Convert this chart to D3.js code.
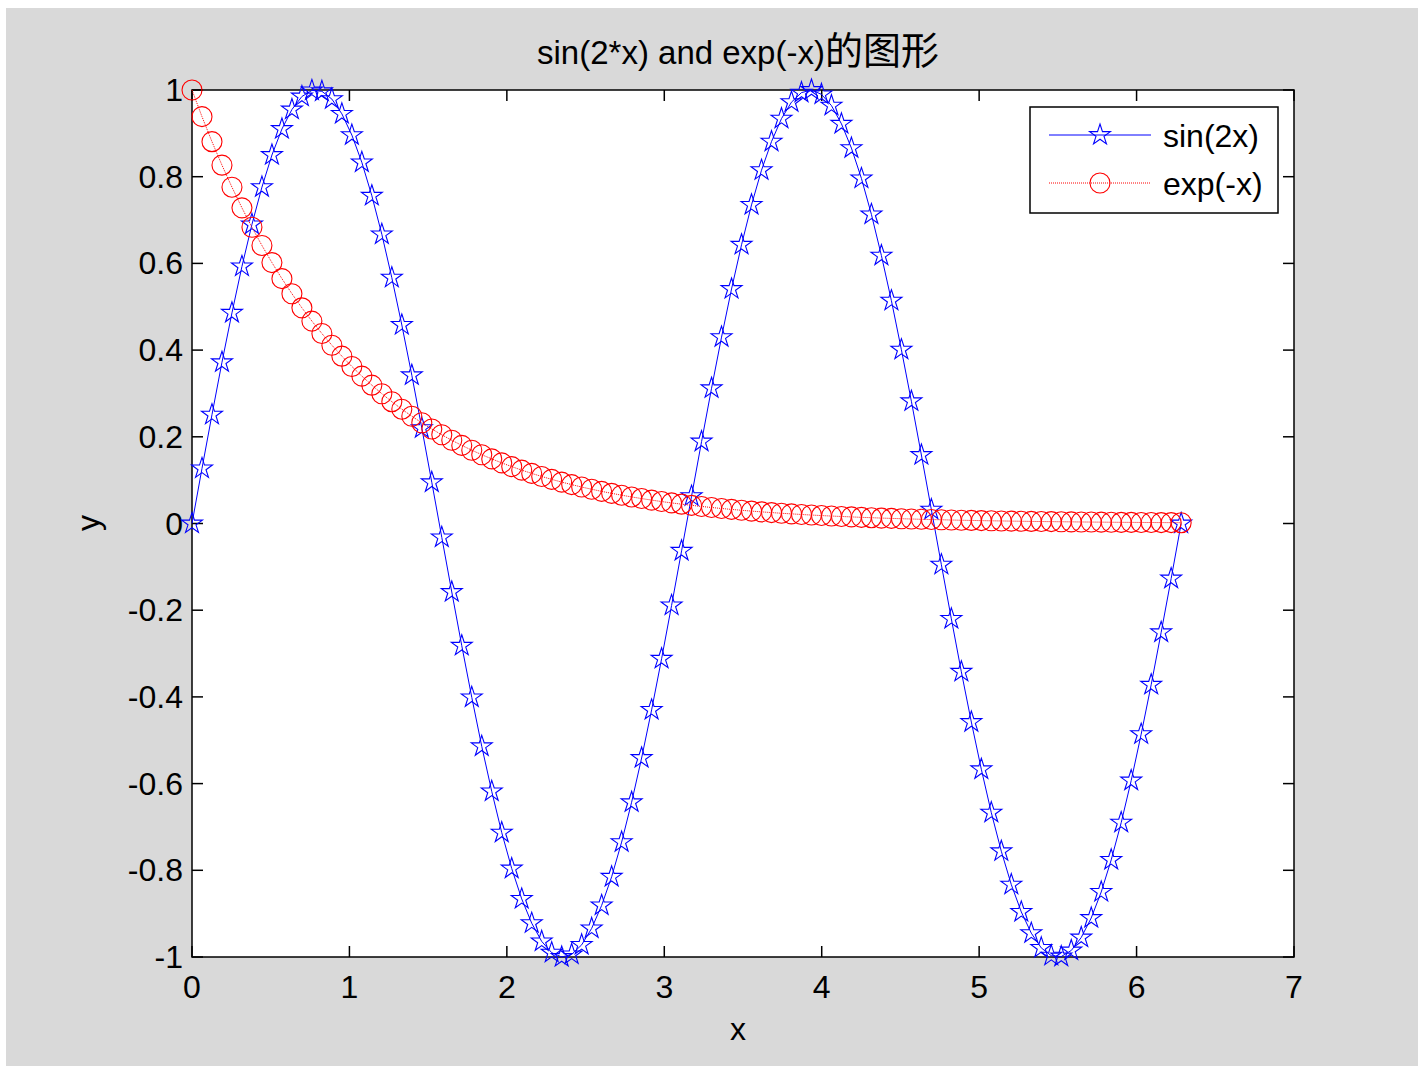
<!DOCTYPE html>
<html>
<head>
<meta charset="utf-8">
<script src="https://cdn.jsdelivr.net/npm/d3@7/dist/d3.min.js"></script>
<style>
  html, body { margin: 0; padding: 0; background: #ffffff; }
  svg { display: block; }
  text { font-family: "Liberation Sans", Arial, "Noto Sans CJK SC", sans-serif; fill: #000; }
</style>
</head>
<body>
<svg id="chart" width="1422" height="1068"></svg>
<script>
// Sample grid: 100 points from 0 to 2*pi
const xValues = [
  0.0000, 0.0635, 0.1269, 0.1904, 0.2539, 0.3173, 0.3808, 0.4443, 0.5077, 0.5712,
  0.6347, 0.6981, 0.7616, 0.8251, 0.8885, 0.9520, 1.0155, 1.0789, 1.1424, 1.2059,
  1.2693, 1.3328, 1.3963, 1.4597, 1.5232, 1.5867, 1.6501, 1.7136, 1.7771, 1.8405,
  1.9040, 1.9675, 2.0309, 2.0944, 2.1579, 2.2213, 2.2848, 2.3483, 2.4117, 2.4752,
  2.5387, 2.6021, 2.6656, 2.7291, 2.7925, 2.8560, 2.9195, 2.9829, 3.0464, 3.1099,
  3.1733, 3.2368, 3.3003, 3.3637, 3.4272, 3.4907, 3.5541, 3.6176, 3.6811, 3.7445,
  3.8080, 3.8715, 3.9349, 3.9984, 4.0619, 4.1253, 4.1888, 4.2523, 4.3157, 4.3792,
  4.4427, 4.5061, 4.5696, 4.6331, 4.6965, 4.7600, 4.8235, 4.8869, 4.9504, 5.0139,
  5.0773, 5.1408, 5.2043, 5.2677, 5.3312, 5.3947, 5.4581, 5.5216, 5.5851, 5.6485,
  5.7120, 5.7755, 5.8389, 5.9024, 5.9659, 6.0293, 6.0928, 6.1563, 6.2197, 6.2832
];

// sin(2x) series
const sinValues = [
  0.000, 0.127, 0.251, 0.372, 0.486, 0.593, 0.690, 0.776, 0.850, 0.910,
  0.955, 0.985, 0.999, 0.997, 0.979, 0.945, 0.896, 0.833, 0.756, 0.667,
  0.567, 0.458, 0.342, 0.220, 0.095, -0.032, -0.158, -0.282, -0.401, -0.514,
  -0.618, -0.713, -0.796, -0.866, -0.922, -0.964, -0.990, -1.000, -0.994, -0.972,
  -0.934, -0.881, -0.815, -0.735, -0.643, -0.541, -0.430, -0.312, -0.189, -0.063,
  0.063, 0.189, 0.312, 0.430, 0.541, 0.643, 0.735, 0.815, 0.881, 0.934,
  0.972, 0.994, 1.000, 0.990, 0.964, 0.922, 0.866, 0.796, 0.713, 0.618,
  0.514, 0.401, 0.282, 0.158, 0.032, -0.095, -0.220, -0.342, -0.458, -0.567,
  -0.667, -0.756, -0.833, -0.896, -0.945, -0.979, -0.997, -0.999, -0.985, -0.955,
  -0.910, -0.850, -0.776, -0.690, -0.593, -0.486, -0.372, -0.251, -0.127, 0.000
];

// exp(-x) series
const expValues = [
  1.0000, 0.9385, 0.8808, 0.8266, 0.7758, 0.7281, 0.6833, 0.6413, 0.6019, 0.5648,
  0.5301, 0.4975, 0.4669, 0.4382, 0.4113, 0.3860, 0.3622, 0.3400, 0.3191, 0.2994,
  0.2810, 0.2637, 0.2475, 0.2323, 0.2180, 0.2046, 0.1920, 0.1802, 0.1691, 0.1587,
  0.1490, 0.1398, 0.1312, 0.1231, 0.1156, 0.1085, 0.1018, 0.0955, 0.0897, 0.0841,
  0.0790, 0.0741, 0.0696, 0.0653, 0.0613, 0.0575, 0.0540, 0.0506, 0.0475, 0.0446,
  0.0419, 0.0393, 0.0369, 0.0346, 0.0325, 0.0305, 0.0286, 0.0268, 0.0252, 0.0236,
  0.0222, 0.0208, 0.0195, 0.0183, 0.0172, 0.0162, 0.0152, 0.0142, 0.0134, 0.0125,
  0.0118, 0.0110, 0.0104, 0.0097, 0.0091, 0.0086, 0.0080, 0.0075, 0.0071, 0.0066,
  0.0062, 0.0059, 0.0055, 0.0052, 0.0048, 0.0045, 0.0043, 0.0040, 0.0038, 0.0035,
  0.0033, 0.0031, 0.0029, 0.0027, 0.0026, 0.0024, 0.0023, 0.0021, 0.0020, 0.0019
];

const xTicks = [0, 1, 2, 3, 4, 5, 6, 7];
const xTickLabels = ["0", "1", "2", "3", "4", "5", "6", "7"];
const yTicks = [1, 0.8, 0.6, 0.4, 0.2, 0, -0.2, -0.4, -0.6, -0.8, -1];
const yTickLabels = ["1", "0.8", "0.6", "0.4", "0.2", "0", "-0.2", "-0.4", "-0.6", "-0.8", "-1"];
const seriesNames = ["sin(2x)", "exp(-x)"];
const titleLatin = "sin(2*x) and exp(-x)";
const titleHan = "的图形";
const xLabel = "x";
const yLabel = "y";

const svg = d3.select("#chart");
const box = { left: 192, right: 1294, top: 90, bottom: 957 };

const x = d3.scaleLinear().domain([0, 7]).range([box.left, box.right]);
const y = d3.scaleLinear().domain([-1, 1]).range([box.bottom, box.top]);

// figure background
svg.append("rect").attr("x", 6).attr("y", 8).attr("width", 1412).attr("height", 1058)
  .attr("fill", "#d9d9d9");

// axes area
svg.append("rect").attr("x", box.left).attr("y", box.top)
  .attr("width", box.right - box.left).attr("height", box.bottom - box.top)
  .attr("fill", "#ffffff");

const tickLen = 11;
const ticksG = svg.append("g").attr("stroke", "#000").attr("stroke-width", 1.5);
// bottom & top ticks, pointing inward
xTicks.forEach(t => {
  const px = x(t);
  ticksG.append("line").attr("x1", px).attr("x2", px).attr("y1", box.bottom).attr("y2", box.bottom - tickLen);
  ticksG.append("line").attr("x1", px).attr("x2", px).attr("y1", box.top).attr("y2", box.top + tickLen);
});
// left & right ticks, pointing inward
yTicks.forEach(t => {
  const py = y(t);
  ticksG.append("line").attr("x1", box.left).attr("x2", box.left + tickLen).attr("y1", py).attr("y2", py);
  ticksG.append("line").attr("x1", box.right).attr("x2", box.right - tickLen).attr("y1", py).attr("y2", py);
});

// axes frame
svg.append("rect").attr("x", box.left).attr("y", box.top)
  .attr("width", box.right - box.left).attr("height", box.bottom - box.top)
  .attr("fill", "none").attr("stroke", "#000").attr("stroke-width", 1.5);

// tick labels
const tickFont = 32;
svg.append("g").selectAll("text").data(xTicks).join("text")
  .attr("x", d => x(d)).attr("y", 998)
  .attr("text-anchor", "middle").attr("font-size", tickFont)
  .text((d, i) => xTickLabels[i]);
svg.append("g").selectAll("text").data(yTicks).join("text")
  .attr("x", box.left - 9).attr("y", d => y(d) + 11)
  .attr("text-anchor", "end").attr("font-size", tickFont)
  .text((d, i) => yTickLabels[i]);

// axis labels
svg.append("text").attr("x", 738).attr("y", 1040).attr("text-anchor", "middle")
  .attr("font-size", tickFont).text(xLabel);
svg.append("text").attr("transform", "translate(99,523) rotate(-90)")
  .attr("text-anchor", "middle").attr("font-size", tickFont).text(yLabel);

// title
const title = svg.append("text").attr("x", 738).attr("y", 64).attr("text-anchor", "middle");
title.append("tspan").attr("font-size", 33).text(titleLatin);
title.append("tspan").attr("font-size", 38)
  .style("font-family", "'Noto Sans CJK SC', sans-serif").text(titleHan);

// five-pointed star outline centered at origin
function starPath(R) {
  const r = R * 0.382;
  const pts = [];
  for (let i = 0; i < 10; i++) {
    const a = -Math.PI / 2 + i * Math.PI / 5;
    const rad = i % 2 === 0 ? R : r;
    pts.push([rad * Math.cos(a), rad * Math.sin(a)]);
  }
  return "M" + pts.map(p => p[0].toFixed(2) + "," + p[1].toFixed(2)).join("L") + "Z";
}
const starD = starPath(11);
const circleR = 10;

const sinData = xValues.map((v, i) => [v, sinValues[i]]);
const expData = xValues.map((v, i) => [v, expValues[i]]);
const line = d3.line().x(d => x(d[0])).y(d => y(d[1]));

// sin(2x): solid blue line with pentagram markers
svg.append("path").datum(sinData).attr("d", line)
  .attr("fill", "none").attr("stroke", "#0000ff").attr("stroke-width", 1);
svg.append("g").selectAll("path").data(sinData).join("path")
  .attr("d", starD)
  .attr("transform", d => `translate(${x(d[0])},${y(d[1])})`)
  .attr("fill", "none").attr("stroke", "#0000ff").attr("stroke-width", 1.1);

// exp(-x): dotted red line with circle markers
svg.append("path").datum(expData).attr("d", line)
  .attr("fill", "none").attr("stroke", "#ff0000").attr("stroke-width", 1)
  .attr("stroke-dasharray", "1,1");
svg.append("g").selectAll("circle").data(expData).join("circle")
  .attr("cx", d => x(d[0])).attr("cy", d => y(d[1])).attr("r", circleR)
  .attr("fill", "none").attr("stroke", "#ff0000").attr("stroke-width", 1.1);

// legend
const lg = svg.append("g");
lg.append("rect").attr("x", 1030).attr("y", 107).attr("width", 248).attr("height", 106)
  .attr("fill", "#ffffff").attr("stroke", "#000").attr("stroke-width", 1.5);
const legendRows = [
  { name: seriesNames[0], color: "#0000ff", cy: 135, marker: "star", dash: null },
  { name: seriesNames[1], color: "#ff0000", cy: 183, marker: "circle", dash: "1,1" }
];
legendRows.forEach(row => {
  lg.append("line").attr("x1", 1049).attr("x2", 1151).attr("y1", row.cy).attr("y2", row.cy)
    .attr("stroke", row.color).attr("stroke-width", 1)
    .attr("stroke-dasharray", row.dash);
  if (row.marker === "star") {
    lg.append("path").attr("d", starD).attr("transform", `translate(1100,${row.cy})`)
      .attr("fill", "none").attr("stroke", row.color).attr("stroke-width", 1.1);
  } else {
    lg.append("circle").attr("cx", 1100).attr("cy", row.cy).attr("r", circleR)
      .attr("fill", "none").attr("stroke", row.color).attr("stroke-width", 1.1);
  }
  lg.append("text").attr("x", 1163).attr("y", row.cy + 12).attr("font-size", tickFont).text(row.name);
});
</script>
</body>
</html>
